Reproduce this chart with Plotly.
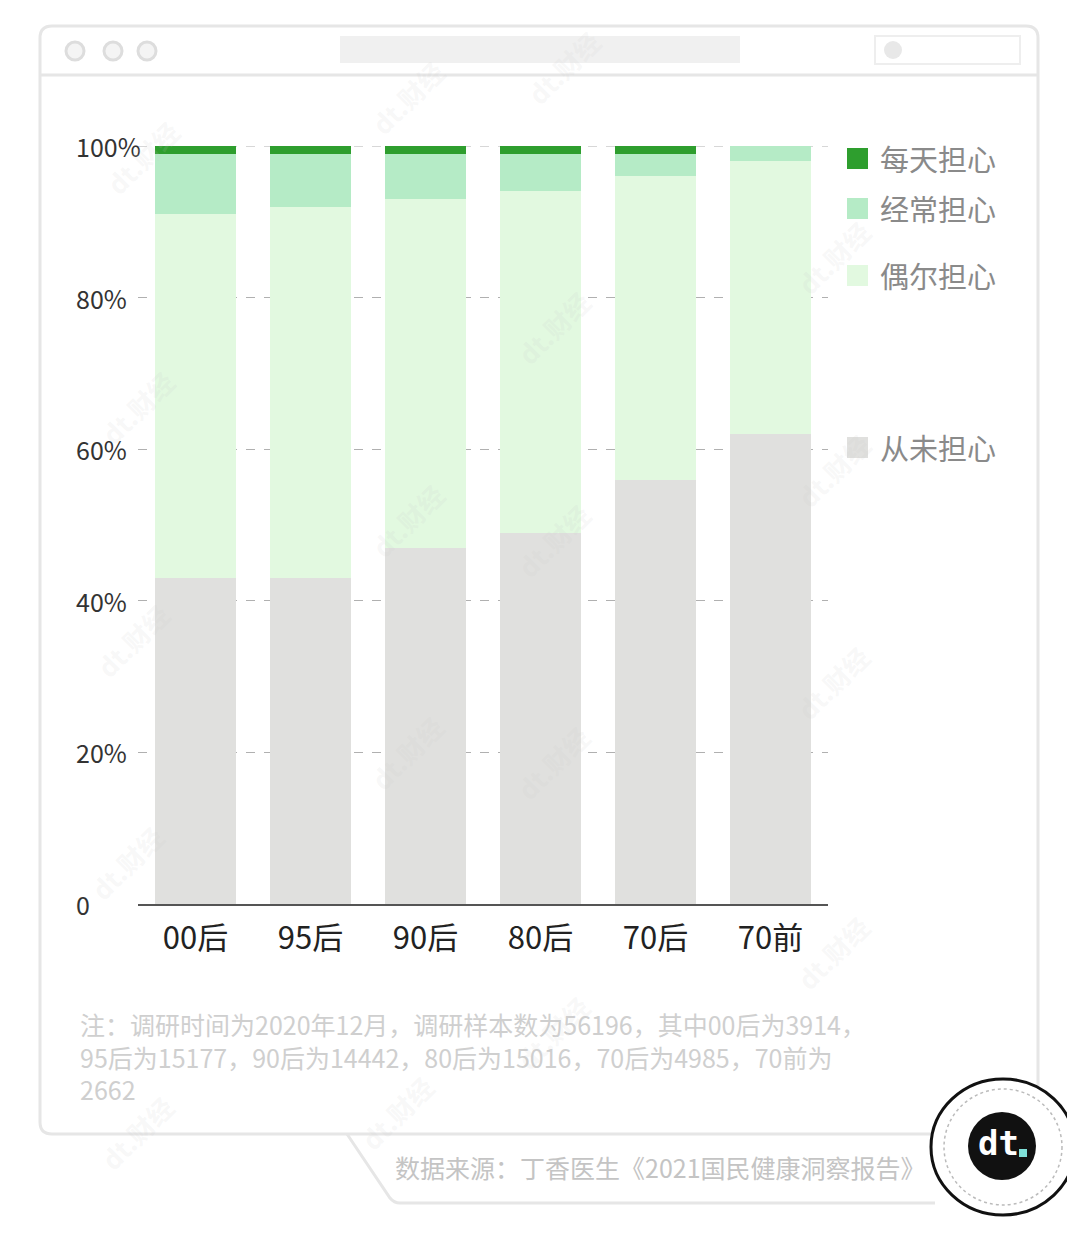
import plotly.graph_objects as go

categories = ["00后", "95后", "90后", "80后", "70后", "70前"]
never = [43, 43, 47, 49, 56, 62]
sometimes = [48, 49, 46, 45, 40, 36]
often = [8, 7, 6, 5, 3, 2]
daily = [1, 1, 1, 1, 1, 0]

series_names = ["从未担心", "偶尔担心", "经常担心", "每天担心"]
series_values = [never, sometimes, often, daily]
series_colors = ["#e0e0de", "#e2f9e0", "#b5ebc6", "#2e9e2e"]

y_ticks = [0, 20, 40, 60, 80, 100]
y_tick_labels = ["0", "20%", "40%", "60%", "80%", "100%"]

note_lines = [
    "注：调研时间为2020年12月，调研样本数为56196，其中00后为3914，",
    "95后为15177，90后为14442，80后为15016，70后为4985，70前为",
    "2662",
]
source_text = "数据来源：丁香医生《2021国民健康洞察报告》"

OFF = 8  # page body margin
W, H = 1075 - OFF, 1243 - OFF
L, R, T, B = 138, 828, 146, 904  # page coordinates of plot area
FONT = "Noto Sans CJK SC, Noto Sans, sans-serif"


def px(x):
    return (x - L) / (R - L)


def py(y):
    return (B - y) / (B - T)


fig = go.Figure()
for name, vals, col in zip(series_names, series_values, series_colors):
    fig.add_trace(go.Bar(x=categories, y=vals, name=name, marker_color=col,
                         marker_line_width=0, showlegend=False))

shapes = []


def rpath(x0, y0, x1, y1, r):
    return (f"M{px(x0+r)},{py(y0)} L{px(x1-r)},{py(y0)} Q{px(x1)},{py(y0)} {px(x1)},{py(y0+r)} "
            f"L{px(x1)},{py(y1-r)} Q{px(x1)},{py(y1)} {px(x1-r)},{py(y1)} "
            f"L{px(x0+r)},{py(y1)} Q{px(x0)},{py(y1)} {px(x0)},{py(y1-r)} "
            f"L{px(x0)},{py(y0+r)} Q{px(x0)},{py(y0)} {px(x0+r)},{py(y0)} Z")


# window frame
shapes.append(dict(type="path", xref="paper", yref="paper", path=rpath(40, 26, 1038, 1134, 12),
                   line=dict(color="#e6e6e6", width=3), layer="below"))
shapes.append(dict(type="line", xref="paper", yref="paper", x0=px(40), x1=px(1038), y0=py(75), y1=py(75),
                   line=dict(color="#e6e6e6", width=3), layer="below"))
shapes.append(dict(type="rect", xref="paper", yref="paper", x0=px(340), x1=px(740), y0=py(36), y1=py(63),
                   fillcolor="#f0f0f0", line=dict(width=0), layer="below"))
for cx in [75, 113, 147]:
    shapes.append(dict(type="circle", xref="paper", yref="paper", x0=px(cx-9), x1=px(cx+9), y0=py(42), y1=py(60),
                       line=dict(color="#dddddd", width=3), fillcolor="#f4f4f4", layer="below"))
shapes.append(dict(type="rect", xref="paper", yref="paper", x0=px(875), x1=px(1020), y0=py(36), y1=py(64),
                   line=dict(color="#eeeeee", width=2), layer="below"))
shapes.append(dict(type="circle", xref="paper", yref="paper", x0=px(884), x1=px(902), y0=py(41), y1=py(59),
                   fillcolor="#e8e8e8", line=dict(width=0), layer="below"))
# 100% dashed gridline
shapes.append(dict(type="line", xref="paper", yref="y", x0=0, x1=1, y0=100, y1=100,
                   line=dict(color="#b0b0b0", width=1, dash="dash"), layer="below"))
# source tab
shapes.append(dict(type="path", xref="paper", yref="paper",
                   path=f"M{px(347)},{py(1134)} L{px(390)},{py(1198)} Q{px(394)},{py(1203)} {px(400)},{py(1203)} L{px(935)},{py(1203)}",
                   line=dict(color="#e6e6e6", width=3), layer="below"))
# logo
shapes.append(dict(type="circle", xref="paper", yref="paper", x0=px(931), x1=px(1075), y0=py(1079), y1=py(1215),
                   fillcolor="white", line=dict(color="#111111", width=3)))
shapes.append(dict(type="circle", xref="paper", yref="paper", x0=px(944), x1=px(1062), y0=py(1089), y1=py(1205),
                   line=dict(color="#bbbbbb", width=1.5, dash="dot")))
shapes.append(dict(type="circle", xref="paper", yref="paper", x0=px(968), x1=px(1036), y0=py(1112), y1=py(1180),
                   fillcolor="#111111", line=dict(width=0)))
shapes.append(dict(type="rect", xref="paper", yref="paper", x0=px(1019), x1=px(1027), y0=py(1149), y1=py(1157),
                   fillcolor="#7fe0d8", line=dict(width=0)))

annotations = []
for v, lab in zip(y_ticks, y_tick_labels):
    annotations.append(dict(xref="paper", yref="y", x=px(74), y=v, text=lab, showarrow=False,
                            xanchor="left", yanchor="middle",
                            font=dict(family=FONT, size=25, color="#333333")))
legend_y = {"每天担心": 158, "经常担心": 208, "偶尔担心": 275, "从未担心": 447}
for name, col in zip(series_names, series_colors):
    yy = legend_y[name]
    shapes.append(dict(type="rect", xref="paper", yref="paper", x0=px(847), x1=px(868),
                       y0=py(yy - 10), y1=py(yy + 11), fillcolor=col, line=dict(width=0)))
    annotations.append(dict(xref="paper", yref="paper", x=px(878), y=py(yy), text=name, showarrow=False,
                            xanchor="left", yanchor="middle",
                            font=dict(family=FONT, size=29, color="#8a8a8a")))
annotations.append(dict(xref="paper", yref="paper", x=px(78), y=py(1004), text="<br>".join(note_lines),
                        showarrow=False, xanchor="left", yanchor="top", align="left",
                        font=dict(family=FONT, size=25, color="#cfcfcf")))
annotations.append(dict(xref="paper", yref="paper", x=px(393), y=py(1167), text=source_text,
                        showarrow=False, xanchor="left", yanchor="middle",
                        font=dict(family=FONT, size=25, color="#c4c4c4")))
annotations.append(dict(xref="paper", yref="paper", x=px(998), y=py(1143), text="<b>dt</b>",
                        showarrow=False, xanchor="center", yanchor="middle",
                        font=dict(family="DejaVu Sans Mono", size=34, color="white")))
for (wx, wy) in [(95, 110), (360, 50), (610, 20), (880, 210), (600, 280), (90, 360), (880, 470),
                 (600, 540), (85, 640), (880, 730), (600, 810), (80, 910), (880, 1000), (600, 1080),
                 (90, 1180), (350, 1160), (360, 520), (360, 800)]:
    annotations.append(dict(xref="paper", yref="paper", x=px(wx), y=py(wy), text="<b>dt.财经</b>",
                            showarrow=False, textangle=-45,
                            font=dict(family=FONT, size=26, color="rgba(200,200,200,0.14)")))

fig.update_layout(
    width=W, height=H,
    margin=dict(l=L - OFF, r=W - (R - OFF), t=T - OFF, b=H - (B - OFF)),
    barmode="stack", bargap=0.29,
    plot_bgcolor="rgba(0,0,0,0)", paper_bgcolor="white",
    font=dict(family=FONT),
    shapes=shapes, annotations=annotations,
    xaxis=dict(showline=True, linecolor="#555555", linewidth=2, showgrid=False, ticks="",
               tickfont=dict(family=FONT, size=31, color="#222222"), ticklabelstandoff=6),
    yaxis=dict(range=[0, 100], tickvals=y_ticks, showticklabels=False, showgrid=True,
               gridcolor="#b0b0b0", griddash="dash", gridwidth=1, zeroline=False, showline=False),
)

fig.write_html("out.html")
